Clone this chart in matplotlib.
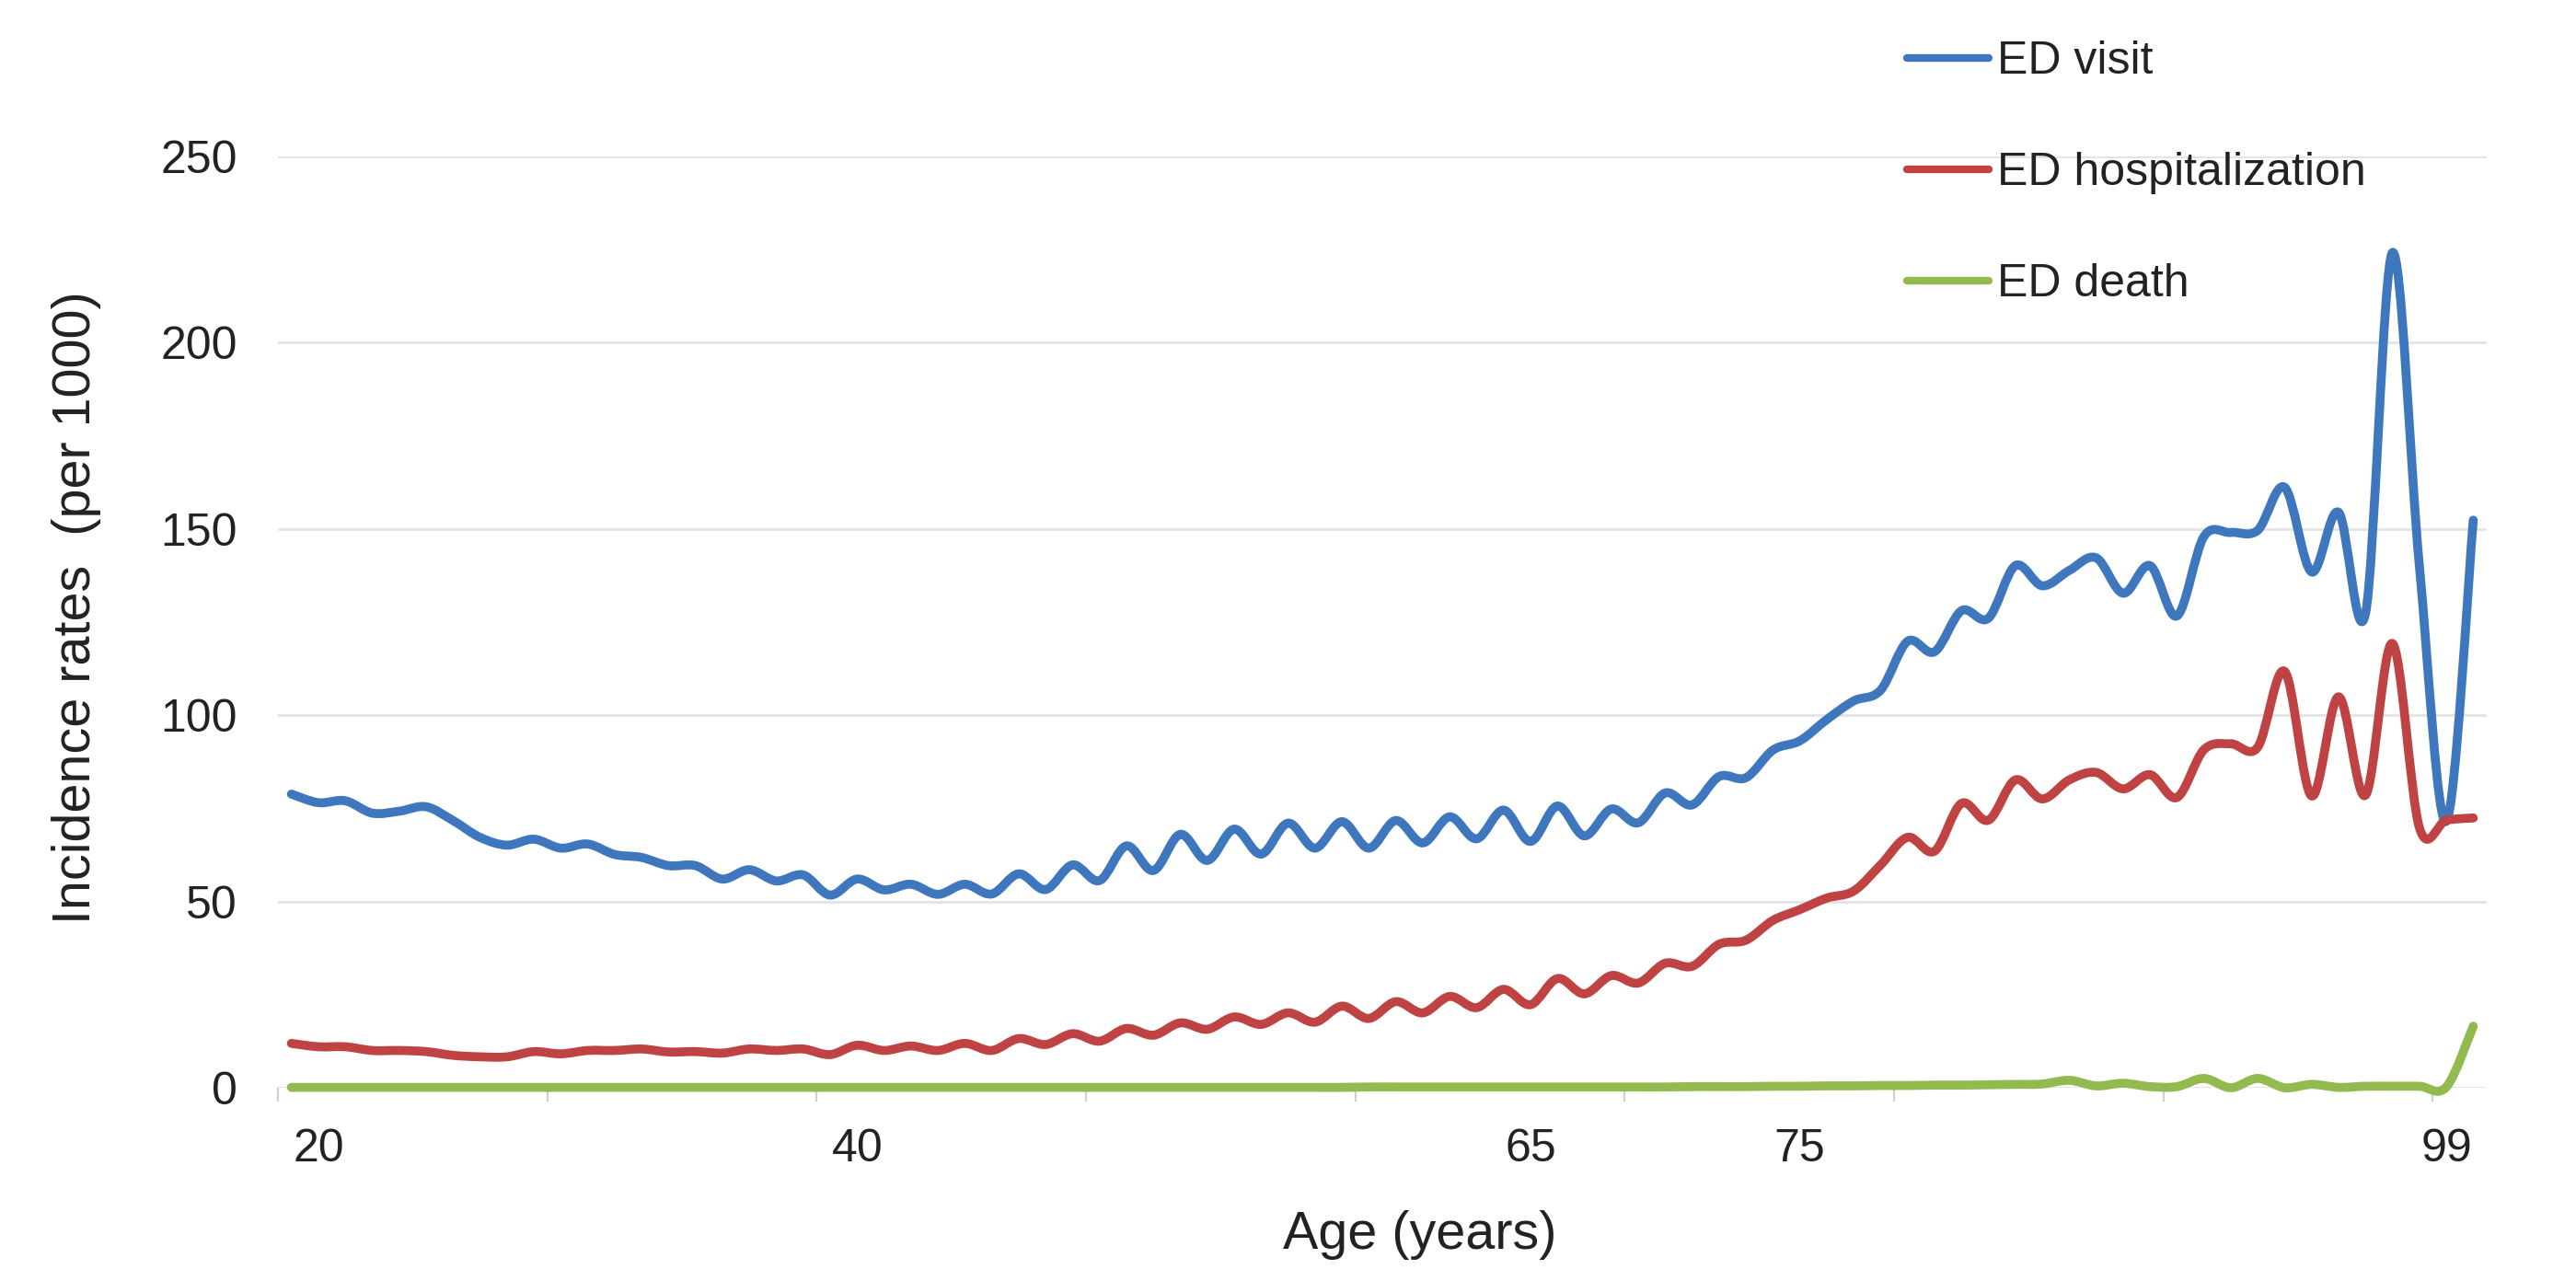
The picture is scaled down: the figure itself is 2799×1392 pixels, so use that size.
import matplotlib
matplotlib.use('Agg')
import matplotlib.pyplot as plt
from matplotlib.path import Path
from matplotlib.patches import PathPatch
from matplotlib.lines import Line2D

plt.rcParams['font.family'] = ['Liberation Sans', 'DejaVu Sans']

# --- DATA (incidence per 1000, ages 19..100) ---
ages = list(range(19, 101))

ed_visit = [
    78.8, 76.5, 77.0, 73.7, 74.2, 75.4, 71.7, 67.2, 65.1, 66.7,
    64.3, 65.4, 62.6, 61.8, 59.6, 59.6, 56.0, 58.5, 55.5, 57.1,
    51.7, 56.0, 53.1, 54.6, 51.9, 54.6, 52.0, 57.4, 53.2, 59.8,
    55.6, 64.9, 58.3, 68.0, 61.0, 69.4, 62.7, 71.0, 64.3, 71.4,
    64.3, 71.7, 65.7, 72.7, 66.8, 74.5, 66.1, 75.6, 67.6, 74.8,
    71.1, 79.1, 75.9, 83.5, 83.2, 90.6, 93.1, 98.8, 103.8, 106.7,
    119.8, 117.0, 128.0, 126.0, 140.1, 134.7, 138.8, 142.2, 132.7, 140.1,
    126.6, 147.9, 149.0, 149.6, 161.1, 138.4, 154.4, 127.3, 224.1, 140.0,
    71.5, 152.3,
]

ed_hosp = [
    11.9, 11.0, 11.0, 10.0, 10.0, 9.7, 8.7, 8.3, 8.3, 9.7,
    9.1, 10.0, 10.0, 10.4, 9.6, 9.7, 9.3, 10.4, 10.0, 10.4,
    8.9, 11.4, 10.0, 11.2, 10.0, 11.9, 10.0, 13.2, 11.6, 14.5,
    12.5, 15.9, 14.1, 17.4, 15.7, 19.0, 17.0, 20.1, 17.6, 21.9,
    18.6, 23.1, 20.1, 24.5, 21.5, 26.4, 22.3, 29.3, 25.2, 30.1,
    28.1, 33.4, 32.6, 38.5, 39.6, 44.9, 47.8, 50.9, 52.8, 59.8,
    67.2, 63.5, 76.3, 71.8, 82.6, 77.5, 82.6, 84.6, 80.2, 84.0,
    77.9, 90.7, 92.3, 91.4, 111.7, 78.3, 104.9, 78.5, 119.2, 69.8,
    71.8, 72.4,
]

ed_death = [
    0.1, 0.1, 0.1, 0.1, 0.1, 0.1, 0.1, 0.1, 0.1, 0.1,
    0.1, 0.1, 0.1, 0.1, 0.1, 0.1, 0.1, 0.1, 0.1, 0.1,
    0.1, 0.1, 0.1, 0.1, 0.1, 0.1, 0.1, 0.1, 0.1, 0.1,
    0.1, 0.1, 0.1, 0.1, 0.1, 0.1, 0.1, 0.1, 0.1, 0.1,
    0.2, 0.2, 0.2, 0.2, 0.2, 0.2, 0.2, 0.2, 0.2, 0.2,
    0.2, 0.2, 0.3, 0.3, 0.3, 0.4, 0.4, 0.5, 0.5, 0.6,
    0.6, 0.7, 0.7, 0.8, 0.9, 1.0, 2.0, 0.5, 1.2, 0.3,
    0.3, 2.5, 0.0, 2.5, 0.0, 0.9, 0.1, 0.4, 0.4, 0.4,
    0.2, 16.5,
]

series_names = ['ED visit', 'ED hospitalization', 'ED death']
series_colors = ['#3F77BE', '#BF4342', '#93BA4E']

label_ages = [20, 40, 65, 75, 99]
y_ticks = [0, 50, 100, 150, 200, 250]

TXT = '#222222'
GRID = '#E3E3E3'


def smooth_path(xs, ys):
    """Excel-style smoothed line: Catmull-Rom as cubic Bezier segments."""
    n = len(xs)
    verts = [(xs[0], ys[0])]
    codes = [Path.MOVETO]
    for i in range(n - 1):
        x0, y0 = xs[max(i - 1, 0)], ys[max(i - 1, 0)]
        x1, y1 = xs[i], ys[i]
        x2, y2 = xs[i + 1], ys[i + 1]
        x3, y3 = xs[min(i + 2, n - 1)], ys[min(i + 2, n - 1)]
        verts += [(x1 + (x2 - x0) / 6, y1 + (y2 - y0) / 6),
                  (x2 - (x3 - x1) / 6, y2 - (y3 - y1) / 6),
                  (x2, y2)]
        codes += [Path.CURVE4] * 3
    return Path(verts, codes)


fig = plt.figure(figsize=(2799 / 200, 1392 / 200), dpi=200)
ax = fig.add_axes([302 / 2799, 1 - 1182 / 1392, 2400 / 2799, (1182 - 169.6) / 1392])

for vals, col in zip([ed_visit, ed_hosp, ed_death], series_colors):
    patch = PathPatch(smooth_path(ages, vals), fill=False, edgecolor=col, lw=3.5,
                      capstyle='round', joinstyle='round', clip_on=False, zorder=3)
    ax.add_patch(patch)

ax.set_xlim(ages[0] - 0.5, ages[-1] + 0.5)
ax.set_ylim(0, 250)

ax.set_yticks(y_ticks)
ax.yaxis.grid(True, color=GRID, lw=1.0)
ax.set_axisbelow(True)

ax.set_xticks(label_ages)
ax.set_xticklabels([str(a) for a in label_ages])
ax.set_xticks([a + 0.5 for a in range(ages[0] - 1, ages[-1], 10)], minor=True)
ax.tick_params(axis='x', which='major', length=0, pad=16, labelsize=18, labelcolor=TXT)
ax.tick_params(axis='x', which='minor', length=5.5, width=0.8, color='#D0D0D0')
ax.tick_params(axis='y', length=0, pad=16, labelsize=18, labelcolor=TXT)

for s in ax.spines.values():
    s.set_visible(False)

fig.text(1543 / 2799, 1 - 1342 / 1392, 'Age (years)', ha='center', va='center',
         fontsize=20.7, color=TXT)
fig.text(83 / 2799, 1 - 660 / 1392, 'Incidence rates  (per 1000)', ha='center', va='center',
         rotation=90, fontsize=20.7, color=TXT)

handles = [Line2D([], [], color=c, lw=3.0, solid_capstyle='round') for c in series_colors]
ax.legend(handles, series_names, loc='upper left',
          bbox_to_anchor=(2072 / 2799, 1 - 44 / 1392), bbox_transform=fig.transFigure,
          frameon=False, borderpad=0, borderaxespad=0, handlelength=1.78,
          handletextpad=0.18, labelspacing=1.5, fontsize=18, labelcolor=TXT)

fig.savefig('out.png', dpi=200, facecolor='white')
